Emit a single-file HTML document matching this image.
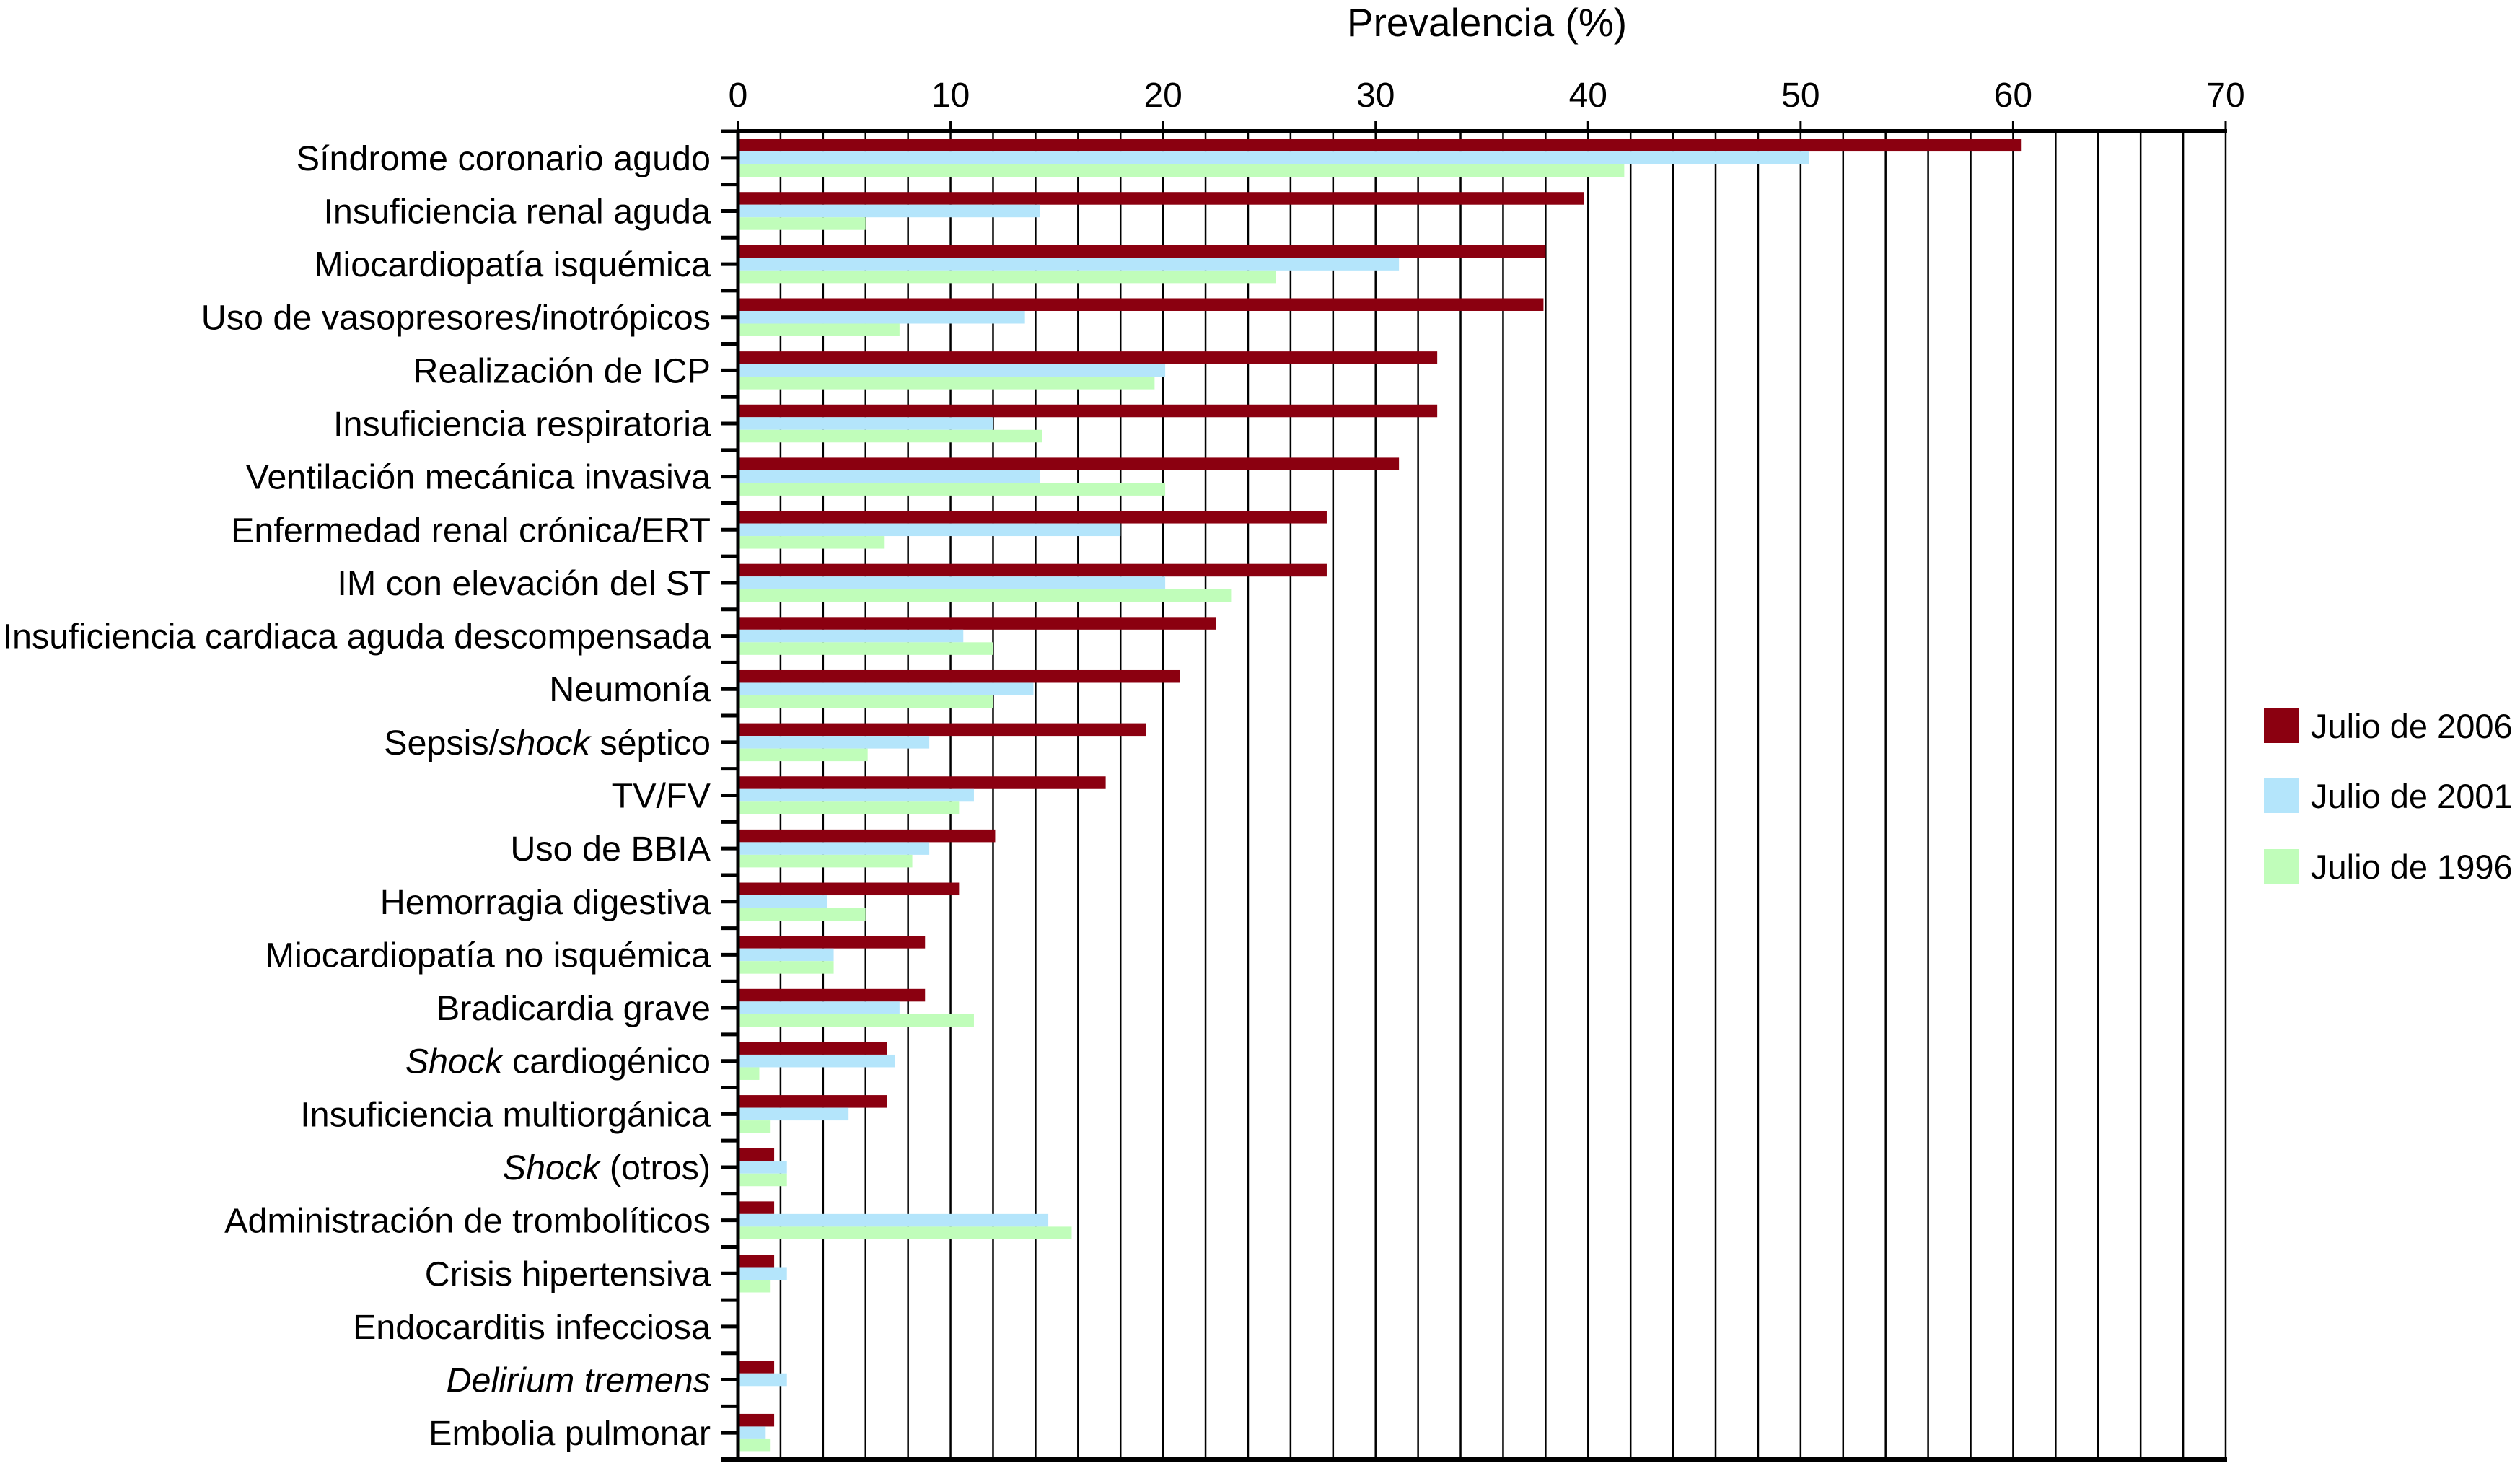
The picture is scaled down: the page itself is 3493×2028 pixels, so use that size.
<!DOCTYPE html>
<html><head><meta charset="utf-8"><style>
html,body{margin:0;padding:0;background:#fff;}
svg{display:block;font-family:"Liberation Sans",Arial,sans-serif;}
</style></head><body>
<svg id="chart" width="3493" height="2028" viewBox="0 0 3493 2028" xmlns="http://www.w3.org/2000/svg">
<text x="2061" y="50" font-size="55" text-anchor="middle">Prevalencia (%)</text>
<g id="grid"></g><g id="bars"></g><g id="axes"></g><g id="labels"></g>
<g id="legend">
<rect x="3138" y="982" width="48" height="48" fill="#8B0010"/>
<text x="3203" y="1023" font-size="47">Julio de 2006</text>
<rect x="3138" y="1079" width="48" height="48" fill="#B4E5FB"/>
<text x="3203" y="1120" font-size="47">Julio de 2001</text>
<rect x="3138" y="1177" width="48" height="48" fill="#C0FDBA"/>
<text x="3203" y="1218" font-size="47">Julio de 1996</text>
</g>
</svg>
<script>
const categories = ["Síndrome coronario agudo","Insuficiencia renal aguda","Miocardiopatía isquémica","Uso de vasopresores/inotrópicos","Realización de ICP","Insuficiencia respiratoria","Ventilación mecánica invasiva","Enfermedad renal crónica/ERT","IM con elevación del ST","Insuficiencia cardiaca aguda descompensada","Neumonía","Sepsis/<i>shock</i> séptico","TV/FV","Uso de BBIA","Hemorragia digestiva","Miocardiopatía no isquémica","Bradicardia grave","<i>Shock</i> cardiogénico","Insuficiencia multiorgánica","<i>Shock</i> (otros)","Administración de trombolíticos","Crisis hipertensiva","Endocarditis infecciosa","<i>Delirium tremens</i>","Embolia pulmonar"];
const values2006 = [60.4,39.8,38.0,37.9,32.9,32.9,31.1,27.7,27.7,22.5,20.8,19.2,17.3,12.1,10.4,8.8,8.8,7.0,7.0,1.7,1.7,1.7,0,1.7,1.7];
const values2001 = [50.4,14.2,31.1,13.5,20.1,12.0,14.2,18.0,20.1,10.6,13.9,9.0,11.1,9.0,4.2,4.5,7.6,7.4,5.2,2.3,14.6,2.3,0,2.3,1.3];
const values1996 = [41.7,6.0,25.3,7.6,19.6,14.3,20.1,6.9,23.2,12.0,12.0,6.1,10.4,8.2,6.0,4.5,11.1,1.0,1.5,2.3,15.7,1.5,0,0,1.5];
const xTicks = [0,10,20,30,40,50,60,70];

const NS="http://www.w3.org/2000/svg";
const X0=1023, X1=3085, Y0=182, Y1=2023, XMAX=70;
const band=(Y1-Y0)/categories.length, barH=17.5;
const xs=v=>X0+(v/XMAX)*(X1-X0);
function mk(tag,attrs,parent){const e=document.createElementNS(NS,tag);for(const k in attrs)e.setAttribute(k,attrs[k]);parent.appendChild(e);return e;}
const grid=document.getElementById('grid'),bars=document.getElementById('bars'),axes=document.getElementById('axes'),labels=document.getElementById('labels');
for(let v=2;v<=XMAX;v+=2){
  const l=mk('line',{x1:xs(v),x2:xs(v),y1:Y0,y2:Y1,stroke:'#000','stroke-width':2.5},grid);
  
  
}
xTicks.forEach(t=>{
  const tx=mk('text',{x:xs(t),y:148,'font-size':48,'text-anchor':'middle'},axes);
  tx.textContent=t;
  
  
  const tk=mk('line',{x1:xs(t),x2:xs(t),y1:Y0-14,y2:Y0,stroke:'#000','stroke-width':3},axes);
  
  
});
const series=[[values2006,'#8B0010','2006'],[values2001,'#B4E5FB','2001'],[values1996,'#C0FDBA','1996']];
categories.forEach((c,i)=>{
  const top=Y0+i*band, mid=top+band/2;
  series.forEach((s,j)=>{
    const v=s[0][i]; if(v<=0) return;
    const r=mk('rect',{x:X0,y:mid-1.5*barH+j*barH,width:xs(v)-X0,height:barH,fill:s[1]},bars);
    
    
  });
  const t=mk('text',{x:985,y:mid+17,'font-size':48.5,'text-anchor':'end'},labels);
  t.innerHTML=c.replace(/<i>(.*?)<\/i>/g,'<tspan font-style="italic">$1</tspan>');
  
  
  [top,mid].forEach(y=>{
    const tk=mk('line',{x1:X0-24,x2:X0,y1:y,y2:y,stroke:'#000','stroke-width':5},axes);
    
    
  });
});
const xa=mk('line',{x1:X0-2,x2:X1+2,y1:Y0,y2:Y0,stroke:'#000','stroke-width':6},axes);


const ya=mk('line',{x1:X0,x2:X0,y1:Y0,y2:Y1,stroke:'#000','stroke-width':5},axes);


const ba=mk('line',{x1:X0-24,x2:X1+2,y1:Y1,y2:Y1,stroke:'#000','stroke-width':6},axes);


</script>
</body></html>
